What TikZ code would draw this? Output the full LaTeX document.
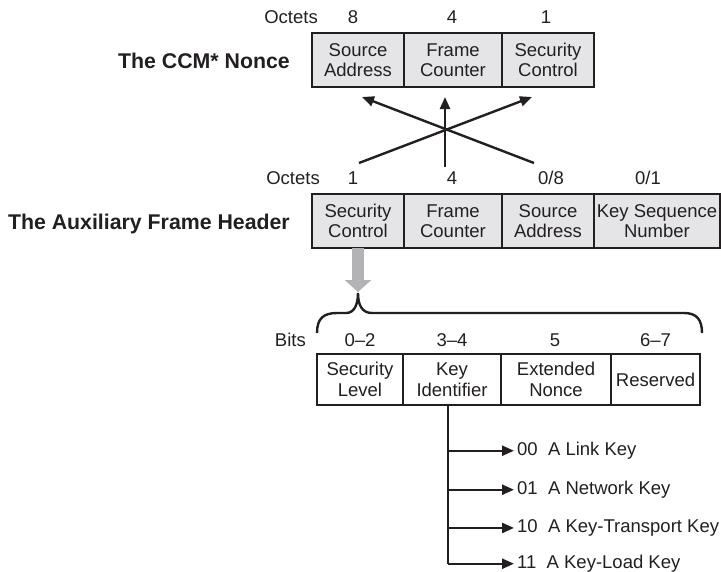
\documentclass[tikz,border=0pt]{standalone}
\usepackage{fontspec}
\setmainfont{Liberation Sans}
\usetikzlibrary{arrows.meta,positioning,calc}
\definecolor{ink}{HTML}{231F20}
\definecolor{cellgray}{HTML}{E5E5E7}
\definecolor{pipegray}{HTML}{B3B3B5}
\tikzset{
  field/.style={draw=ink,line width=1.8pt,inner sep=0pt,outer sep=0pt,align=center,minimum height=54pt,
    font=\fontsize{18.5}{20.5}\selectfont,text=ink},
  hdrcell/.style={field,fill=cellgray},
  bitcell/.style={field,minimum height=51pt,fill=white},
  num/.style={inner sep=0pt,text depth=0pt,font=\fontsize{18.5}{20.5}\selectfont,text=ink},
  keylab/.style={inner sep=0pt,inner xsep=3pt,anchor=base west,font=\fontsize{18.5}{20.5}\selectfont,text=ink},
  title/.style={inner sep=0pt,anchor=base east,font=\bfseries\fontsize{21.3}{24}\selectfont,text=ink},
  feed/.style={draw=ink,line width=2.4pt,-{Triangle[length=12pt,width=10pt]}},
}
\begin{document}
\begin{tikzpicture}[x=1pt,y=-1pt,line cap=butt,line join=miter]
  \useasboundingbox (0,0) rectangle (721,571);
  % the CCM* nonce
  \node[title] (ccmtitle) at (290,68) {The CCM* Nonce};
  \node[hdrcell,minimum width=92pt] (ccmsrc) at (358,60) {Source\\Address};
  \node[hdrcell,minimum width=98pt,right=0pt of ccmsrc] (ccmfc) {Frame\\Counter};
  \node[hdrcell,minimum width=92pt,right=0pt of ccmfc] (ccmsec) {Security\\Control};
  \node[num,anchor=base east] (ccmoct) at (318,23.5) {Octets};
  \node[num,above=9pt of ccmsrc.north,xshift=-5pt] (ccmn1) {8};
  \node[num,above=9pt of ccmfc.north,xshift=-1pt] (ccmn2) {4};
  \node[num,above=9pt of ccmsec.north,xshift=-2pt] (ccmn3) {1};
  % the auxiliary frame header
  \node[title] (afhtitle) at (290,229) {The Auxiliary Frame Header};
  \node[hdrcell,minimum width=92pt] (afhsec) at (358,221) {Security\\Control};
  \node[hdrcell,minimum width=98pt,right=0pt of afhsec] (afhfc) {Frame\\Counter};
  \node[hdrcell,minimum width=92pt,right=0pt of afhfc] (afhsrc) {Source\\Address};
  \node[hdrcell,minimum width=126pt,right=0pt of afhsrc] (afhkey) {Key Sequence\\Number};
  \node[num,anchor=base east] (afhoct) at (320,184.5) {Octets};
  \node[num,above=9pt of afhsec.north,xshift=-5pt] (afhn1) {1};
  \node[num,above=9pt of afhfc.north,xshift=-1pt] (afhn2) {4};
  \node[num,above=9pt of afhsrc.north,xshift=3pt] (afhn3) {0/8};
  \node[num,above=9pt of afhkey.north,xshift=-9pt] (afhn4) {0/1};
  % fields swapped into the nonce
  \coordinate (xsec) at (359,163);
  \coordinate (xfc) at (445,167);
  \coordinate (xsrc) at (534,163);
  \coordinate (tsrc) at (362,97);
  \coordinate (tfc) at (445,97);
  \coordinate (tsec) at (532,97);
  \draw[feed] (xsec) -- (tsec);
  \draw[feed] (xfc) -- (tfc);
  \draw[feed] (xsrc) -- (tsrc);
  % security control bits
  \coordinate (brtip) at (358,293);
  \draw[draw=pipegray,line width=12pt,-{Triangle[length=12pt,width=26pt]}] (afhsec.south) -- ([yshift=1pt]brtip);
  \draw[ink,line width=2.4pt] (317,333) .. controls (317,319) and (323,313) .. (337,313) -- (346,313)
    .. controls (354,313) and (358,305) .. (brtip) .. controls (358,305) and (362,313) .. (372,313)
    -- (684,313) .. controls (697,313) and (702,320) .. (702,333);
  \node[bitcell,minimum width=86pt] (bitlvl) at (360,379.5) {Security\\Level};
  \node[bitcell,minimum width=98pt,right=0pt of bitlvl] (bitkid) {Key\\Identifier};
  \node[bitcell,minimum width=110pt,right=0pt of bitkid] (bitext) {Extended\\Nonce};
  \node[bitcell,minimum width=89pt,right=0pt of bitext] (bitres) {Reserved};
  \node[num,anchor=base east] (bitlab) at (306,346.5) {Bits};
  \node[num,above=7.5pt of bitlvl.north] (bitn1) {0--2};
  \node[num,above=7.5pt of bitkid.north] (bitn2) {3--4};
  \node[num,above=7.5pt of bitext.north,xshift=-1pt] (bitn3) {5};
  \node[num,above=7.5pt of bitres.north] (bitn4) {6--7};
  % key identifier values
  \coordinate (trunk) at ([xshift=-4pt]bitkid.south);
  \node[keylab] (k00) at (514,455.5) {00~~A Link Key};
  \node[keylab] (k01) at (514,494.5) {01~~A Network Key};
  \node[keylab] (k10) at (514,532.5) {10~~A Key-Transport Key};
  \node[keylab] (k11) at (514,568.5) {11~~A Key-Load Key};
  \draw[ink,line width=2.4pt] (trunk) -- (trunk |- k11.west);
  \foreach \k in {k00,k01,k10,k11}
    \draw[feed] (trunk |- \k.west) -- (\k.west);
\end{tikzpicture}
\end{document}
